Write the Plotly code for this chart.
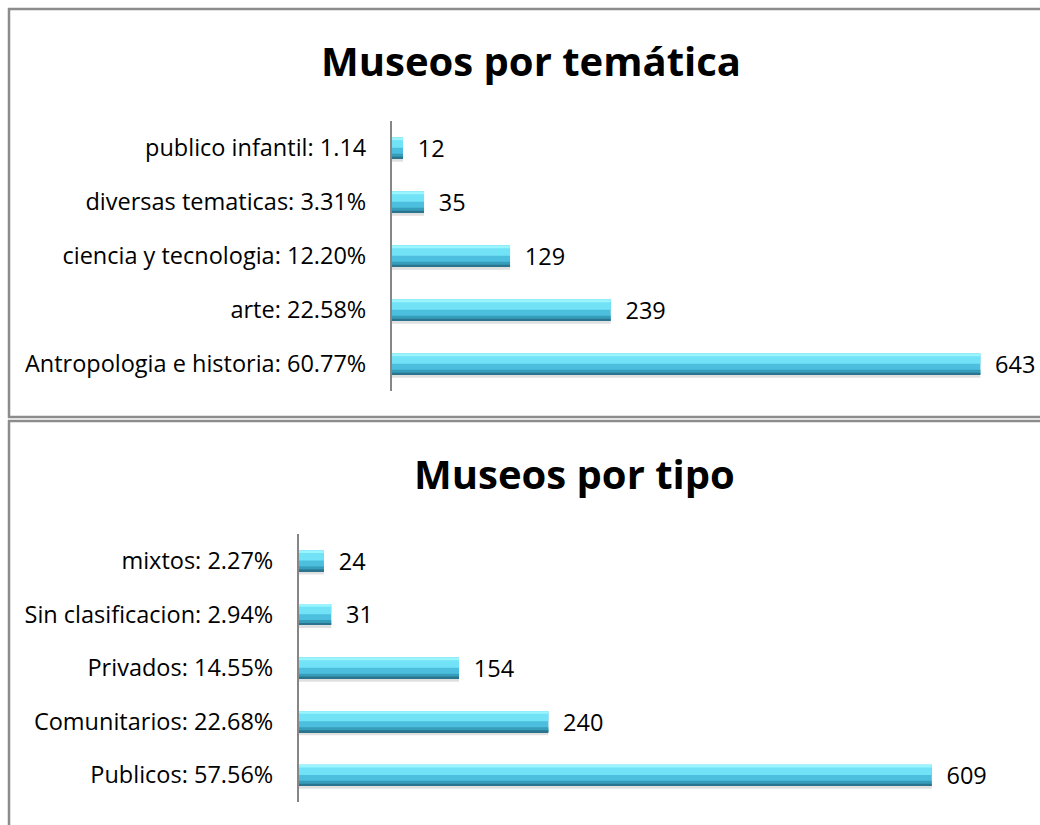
import plotly.graph_objects as go

# ---------------- data ----------------
tema_labels = ["Antropologia e historia: 60.77%", "arte: 22.58%", "ciencia y tecnologia: 12.20%",
               "diversas tematicas: 3.31%", "publico infantil: 1.14"]
tema_values = [643, 239, 129, 35, 12]

tipo_labels = ["Publicos: 57.56%", "Comunitarios: 22.68%", "Privados: 14.55%",
               "Sin clasificacion: 2.94%", "mixtos: 2.27%"]
tipo_values = [609, 240, 154, 31, 24]

title_top = "Museos por temática"
title_bottom = "Museos por tipo"

W, H = 1040, 825
FONT = "Open Sans"
TICK_SIZE = 23.5
FRAME = "#8c8c8c"

fig = go.Figure()

BW = 0.39  # bar thickness in category units


def px_x(p):
    return p / W


def px_y(p):
    return 1 - p / H


def add_bars(labels, values, xa, ya):
    # soft shadow
    fig.add_trace(go.Bar(y=labels, x=values, orientation="h", xaxis=xa, yaxis=ya,
                         width=BW, offset=-BW / 2 - 0.06,
                         marker=dict(color="rgba(0,0,0,0.12)", line=dict(width=0)),
                         hoverinfo="skip", showlegend=False))
    # main body
    fig.add_trace(go.Bar(y=labels, x=values, orientation="h", xaxis=xa, yaxis=ya,
                         width=BW, offset=-BW / 2,
                         marker=dict(color="#4bbfdd", line=dict(width=0)),
                         text=values, texttemplate="\u2002%{x}", textposition="outside",
                         constraintext="none", cliponaxis=False,
                         textfont=dict(family=FONT, size=TICK_SIZE, color="#000000"),
                         showlegend=False))
    # lighter upper band
    fig.add_trace(go.Bar(y=labels, x=values, orientation="h", xaxis=xa, yaxis=ya,
                         width=0.19, offset=BW / 2 - 0.19,
                         marker=dict(color="#72e2f7", line=dict(width=0)),
                         hoverinfo="skip", showlegend=False))
    # bright top edge
    fig.add_trace(go.Bar(y=labels, x=values, orientation="h", xaxis=xa, yaxis=ya,
                         width=0.05, offset=BW / 2 - 0.05,
                         marker=dict(color="#9af5ff", line=dict(width=0)),
                         hoverinfo="skip", showlegend=False))
    # darker lower band
    fig.add_trace(go.Bar(y=labels, x=values, orientation="h", xaxis=xa, yaxis=ya,
                         width=0.09, offset=-BW / 2,
                         marker=dict(color="#369dbb", line=dict(width=0)),
                         hoverinfo="skip", showlegend=False))
    # dark bottom edge
    fig.add_trace(go.Bar(y=labels, x=values, orientation="h", xaxis=xa, yaxis=ya,
                         width=0.035, offset=-BW / 2,
                         marker=dict(color="#2a758d", line=dict(width=0)),
                         hoverinfo="skip", showlegend=False))


add_bars(tema_labels, tema_values, "x", "y")
add_bars(tipo_labels, tipo_values, "x2", "y2")

axis_common_x = dict(visible=False, fixedrange=True)
axis_common_y = dict(showline=True, linecolor="#868686", linewidth=2, ticks="",
                     showgrid=False, zeroline=False, ticklabelstandoff=19,
                     tickfont=dict(family=FONT, size=TICK_SIZE, color="#000000"),
                     categoryorder="array", fixedrange=True)


def hline(y, x0=8, x1=W):
    return dict(type="line", xref="paper", yref="paper", x0=px_x(x0), x1=px_x(x1),
                y0=px_y(y), y1=px_y(y), line=dict(color=FRAME, width=2.5), layer="below")


def vline(x, y0, y1):
    return dict(type="line", xref="paper", yref="paper", x0=px_x(x), x1=px_x(x),
                y0=px_y(y0), y1=px_y(y1), line=dict(color=FRAME, width=2.5), layer="below")


fig.update_layout(
    width=W, height=H,
    margin=dict(l=0, r=0, t=0, b=0),
    paper_bgcolor="white", plot_bgcolor="white",
    barmode="overlay",
    showlegend=False,
    xaxis=dict(domain=[px_x(392), 1], range=[0, (W - 392) / 0.915], **axis_common_x),
    yaxis=dict(domain=[px_y(391), px_y(121)], anchor="x",
               categoryarray=tema_labels, **axis_common_y),
    xaxis2=dict(domain=[px_x(299), 1], range=[0, (W - 299) / 1.039], anchor="y2",
                **axis_common_x),
    yaxis2=dict(domain=[px_y(802), px_y(534)], anchor="x2",
                categoryarray=tipo_labels, **axis_common_y),
    annotations=[
        dict(text="<b>" + title_top + "</b>", xref="paper", yref="paper",
             x=px_x(531), y=px_y(60), xanchor="center", yanchor="middle", showarrow=False,
             font=dict(family=FONT, size=40, color="#000000")),
        dict(text="<b>" + title_bottom + "</b>", xref="paper", yref="paper",
             x=px_x(574), y=px_y(473), xanchor="center", yanchor="middle", showarrow=False,
             font=dict(family=FONT, size=40, color="#000000")),
    ],
    shapes=[
        # top chart frame (open on the right, like the reference)
        hline(9), hline(417), vline(9, 8, 418),
        # bottom chart frame
        hline(421), vline(9, 420, H),
    ],
)

# remove the default 8px page margin so the figure fills the window exactly
fig.write_html("out.html",
               config={"displayModeBar": False},
               post_script="document.body.style.margin='0';document.body.style.overflow='hidden';")
